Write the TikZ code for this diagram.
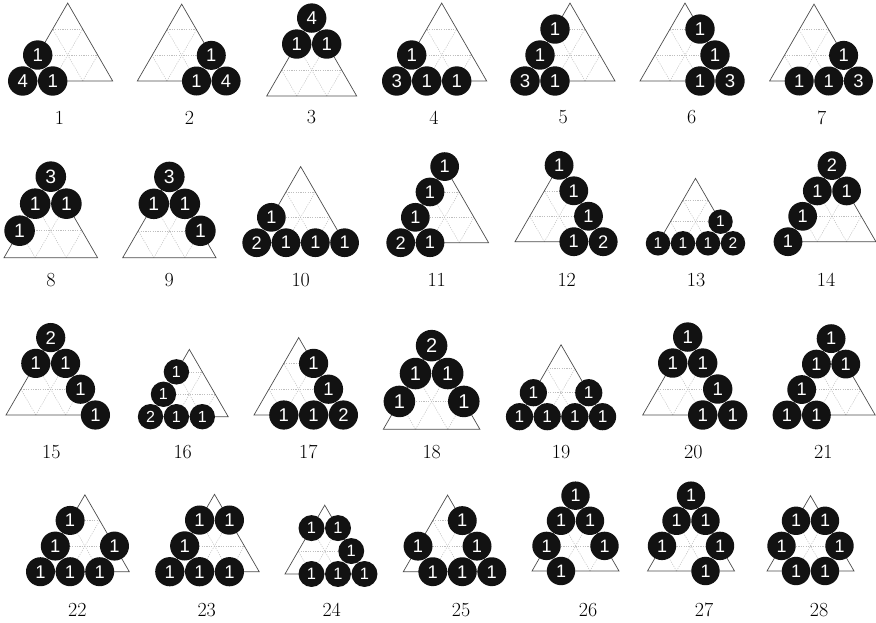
\documentclass[tikz,border=0pt]{standalone}
\usepackage{fontspec}
\newfontfamily\ballfont{Liberation Sans}
\tikzset{
  gridline/.style={draw=black!25, line width=0.5pt, dash pattern=on 1.2pt off 1.2pt},
  triline/.style={draw=black!70, line width=0.7pt},
  ball/.style={fill=black!93},
  ballnum/.style={text=white, inner sep=0pt},
  boardlabel/.style={font=\fontsize{20}{24}\selectfont}
}
% #1 label, #2/#3 lower left corner, #4 spacing, #5/#6 label position, #7 balls i/j/number
\newcommand{\board}[7]{%
  \begin{scope}[shift={(#2,#3)}, x={(#4pt,0pt)}, y={(0.5*#4pt,0.866*#4pt)}]
    \pgfmathsetmacro{\numsize}{0.62*#4}
    \foreach \k in {1,2} {
      \draw[gridline] (0,\k) -- (3-\k,\k);
      \draw[gridline] (\k,0) -- (\k,3-\k);
      \draw[gridline] (\k,0) -- (0,\k);
    }
    \draw[triline] (0,0) -- (3,0) -- (0,3) -- cycle;
    \foreach \i/\j/\n in {#7} {
      \fill[ball] (\i,\j) circle[radius=0.49*#4pt];
      \node[ballnum, font=\fontsize{\numsize}{\numsize}\selectfont\ballfont] (b#1-\i-\j) at (\i,\j) {\n};
    }
  \end{scope}
  \node[boardlabel] (l#1) at (#5,#6) {#1};
}
\begin{document}
\begin{tikzpicture}[x=1pt,y=-1pt]
\useasboundingbox (0,0) rectangle (876,622);
\board{1}{22.7}{81}{30}{59.5}{117.5}{0/0/4, 1/0/1, 0/1/1}
\board{2}{137.3}{81}{29.6}{189.5}{117.5}{2/0/1, 3/0/4, 2/1/1}
\board{3}{266.7}{96}{30}{311.5}{117.5}{0/3/4, 0/2/1, 1/2/1}
\board{4}{396.7}{81}{30}{434}{117.5}{0/0/3, 1/0/1, 2/0/1, 0/1/1}
\board{5}{525}{81}{30}{563.3}{117.5}{0/0/3, 1/0/1, 0/1/1, 0/2/1}
\board{6}{640}{81}{30}{691.7}{117.5}{2/0/1, 3/0/3, 2/1/1, 1/2/1}
\board{7}{769.6}{81}{29.6}{821.7}{117.5}{1/0/1, 2/0/1, 3/0/3, 2/1/1}

\board{8}{4}{257.7}{31.2}{51}{280}{0/1/1, 0/2/1, 1/2/1, 0/3/3}
\board{9}{122.7}{257.7}{31.1}{169.3}{280}{0/3/3, 0/2/1, 1/2/1, 2/1/1}
\board{10}{256.7}{242.7}{29.3}{300.7}{280}{0/0/2, 1/0/1, 2/0/1, 3/0/1, 0/1/1}
\board{11}{400.7}{242.7}{29.3}{436.7}{280}{0/0/2, 1/0/1, 0/1/1, 0/2/1, 0/3/1}
\board{12}{515}{241.7}{29.4}{566.7}{280}{2/0/1, 3/0/2, 2/1/1, 1/2/1, 0/3/1}
\board{13}{658}{243.3}{25}{696}{280}{0/0/1, 1/0/1, 2/0/1, 3/0/2, 2/1/1}
\board{14}{788}{241.7}{29.3}{826}{280}{0/0/1, 0/1/1, 0/2/1, 1/2/1, 0/3/2}

\board{15}{6}{415}{29.8}{51.3}{452.3}{0/3/2, 0/2/1, 1/2/1, 2/1/1, 3/0/1}
\board{16}{150.5}{416.7}{25.9}{182.7}{452.3}{0/0/2, 1/0/1, 2/0/1, 0/1/1, 0/2/1}
\board{17}{254}{415}{29.8}{308.3}{452.3}{1/0/1, 2/0/1, 3/0/2, 2/1/1, 1/2/1}
\board{18}{383.3}{429.3}{32.2}{431.7}{452.3}{0/3/2, 0/2/1, 1/2/1, 0/1/1, 2/1/1}
\board{19}{519.5}{416.7}{27.7}{561}{452.3}{0/0/1, 1/0/1, 2/0/1, 3/0/1, 0/1/1, 2/1/1}
\board{20}{642.7}{415}{30}{693.3}{452.3}{0/3/1, 0/2/1, 1/2/1, 2/1/1, 2/0/1, 3/0/1}
\board{21}{787}{415}{29.4}{823.3}{452.3}{0/0/1, 1/0/1, 0/1/1, 0/2/1, 1/2/1, 0/3/1}

\board{22}{40.5}{571.7}{29.6}{77.3}{609.7}{0/0/1, 1/0/1, 2/0/1, 0/1/1, 0/2/1, 2/1/1}
\board{23}{169.8}{571.7}{29.8}{206.7}{609.7}{0/0/1, 1/0/1, 2/0/1, 0/1/1, 0/2/1, 1/2/1}
\board{24}{285}{574}{26.5}{331.7}{609.7}{1/0/1, 2/0/1, 3/0/1, 2/1/1, 0/2/1, 1/2/1}
\board{25}{403.3}{571.7}{29.5}{461}{609.7}{1/0/1, 2/0/1, 3/0/1, 0/1/1, 2/1/1, 1/2/1}
\board{26}{532}{571}{29}{588}{609.7}{1/0/1, 0/1/1, 2/1/1, 0/2/1, 1/2/1, 0/3/1}
\board{27}{647.5}{571}{29}{704}{609.7}{2/0/1, 0/1/1, 2/1/1, 0/2/1, 1/2/1, 0/3/1}
\board{28}{767}{571}{29}{819}{609.7}{1/0/1, 2/0/1, 0/1/1, 2/1/1, 0/2/1, 1/2/1}
\end{tikzpicture}
\end{document}
